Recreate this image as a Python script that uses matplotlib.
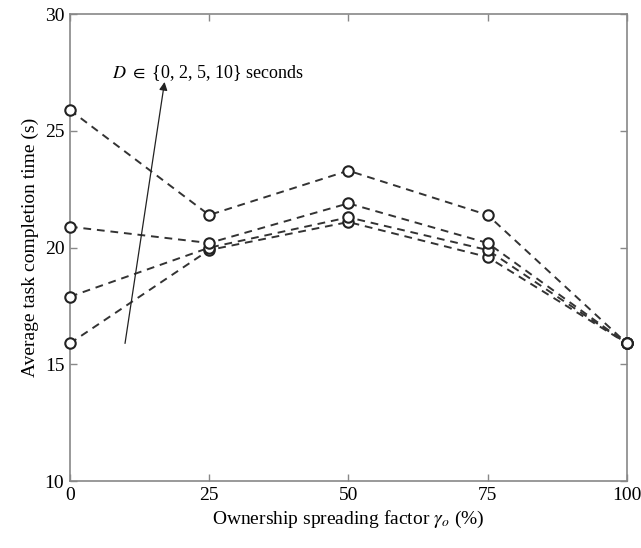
import numpy as np
import matplotlib
matplotlib.use("Agg")
import matplotlib.pyplot as plt

plt.rcParams['font.family'] = ['Liberation Serif', 'DejaVu Serif']
plt.rcParams['mathtext.fontset'] = 'stix'

# ownership spreading factor (%) and completion time per delay D
spread = [0, 25, 50, 75, 100]
t_d0 = [15.9, 19.9, 21.1, 19.6, 15.9]
t_d2 = [17.9, 20.0, 21.3, 19.9, 15.9]
t_d5 = [20.9, 20.2, 21.9, 20.2, 15.9]
t_d10 = [25.9, 21.4, 23.3, 21.4, 15.9]

fig = plt.figure(figsize=(6.41, 5.48), dpi=100)
ax = fig.add_axes([0.109, 0.122, 0.869, 0.852])

for t in (t_d0, t_d2, t_d5, t_d10):
    ax.plot(spread, t, ls=(0, (4, 3)), color='#333333', lw=1.4,
            marker='o', ms=7.5, mfc='white', mec='#222222', mew=1.5,
            clip_on=False, zorder=3)

# arrow showing increasing D
ax.annotate('', xy=(17, 27.1), xytext=(9.9, 15.9),
            arrowprops=dict(arrowstyle='-|>', color='#222222', lw=0.9,
                            mutation_scale=12, shrinkA=0, shrinkB=0))
ax.text(7.5, 27.5, r'$D\ \in$ {0, 2, 5, 10} seconds', fontsize=13,
        va='center', ha='left')

ax.set_xlim(0, 100)
ax.set_ylim(10, 30)
ax.set_xticks(spread)
ax.set_yticks([10, 15, 20, 25, 30])
ax.set_xlabel(r'Ownership spreading factor $\gamma_o$ (%)', fontsize=14)
ax.set_ylabel('Average task completion time (s)', fontsize=14)

for s in ax.spines.values():
    s.set_color('#888888')
    s.set_linewidth(1.2)
ax.tick_params(direction='in', length=5, width=1, color='#888888',
               labelsize=14, top=True, right=True, pad=4)

fig.savefig('out.png', dpi=100)
